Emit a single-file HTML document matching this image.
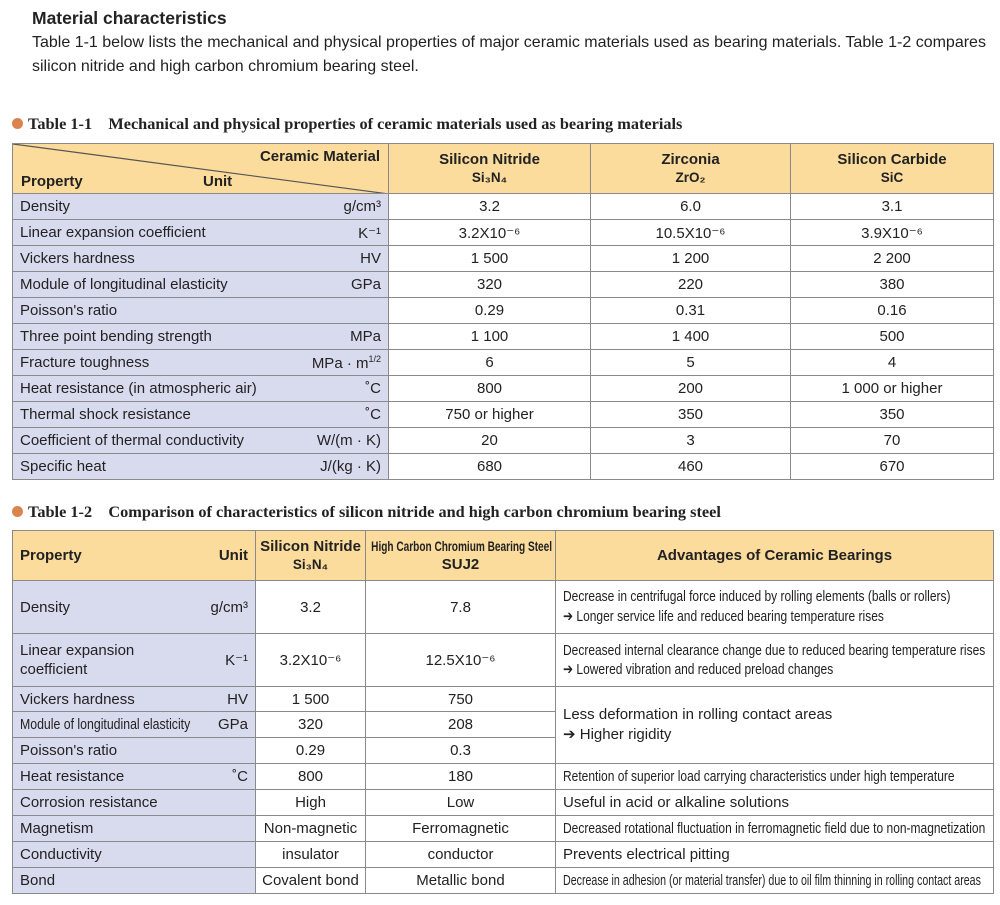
<!DOCTYPE html>
<html><head><meta charset="utf-8"><style>
body{margin:0;width:1000px;height:905px;background:#fff;font-family:"Liberation Sans",sans-serif;color:#222;position:relative;overflow:hidden}
.abs{position:absolute}
h1{position:absolute;left:32px;top:8px;margin:0;font-size:17.5px;font-weight:bold}
.p{position:absolute;left:32px;font-size:16px;color:#222}
.cap{position:absolute;left:12px;font-family:"Liberation Serif",serif;font-weight:bold;font-size:16.3px}
.cap .dot{display:inline-block;width:11px;height:11px;border-radius:50%;background:#d9844c;margin-right:5px;vertical-align:0px}
table{position:absolute;left:12px;border-collapse:collapse;table-layout:fixed;font-size:15px}
td,th{border:1px solid #8a8a8a;padding:0 7px;overflow:hidden;white-space:nowrap}
th{background:#fbdc9c;font-weight:bold;text-align:center;line-height:18px}
td.pr{background:#d8daee}
td{text-align:center}
.f{display:flex;justify-content:space-between}
.l{text-align:left}
.c{display:inline-block;transform:scaleX(.8);transform-origin:left center}
.s{font-size:13.5px}
</style></head><body>
<h1>Material characteristics</h1>
<div class="p" style="top:34px">Table 1-1 below lists the mechanical and physical properties of major ceramic materials used as bearing materials. Table 1-2 compares</div>
<div class="p" style="top:58px">silicon nitride and high carbon chromium bearing steel.</div>
<div class="cap" style="top:114px"><span class="dot"></span>Table 1-1&nbsp;&nbsp;&nbsp; Mechanical and physical properties of ceramic materials used as bearing materials</div>
<table style="top:143px;width:981px">
<colgroup><col style="width:376px"><col style="width:202px"><col style="width:200px"><col style="width:203px"></colgroup>
<tr style="height:50px"><th style="position:relative;padding:0">
<svg class="abs" style="left:0;top:0" width="376" height="50"><line x1="0" y1="0" x2="376" y2="50" stroke="#555" stroke-width="1.2"/></svg>
<span class="abs" style="right:8px;top:4px">Ceramic Material</span><span class="abs" style="left:8px;top:29px">Property</span><span class="abs" style="left:190px;top:29px">Unit</span></th>
<th>Silicon Nitride<br><span class="s">Si₃N₄</span></th>
<th>Zirconia<br><span class="s">ZrO₂</span></th>
<th>Silicon Carbide<br><span class="s">SiC</span></th></tr>
<tr style="height:26px"><td class="pr"><div class="f"><span>Density</span><span>g/cm³</span></div></td><td>3.2</td><td>6.0</td><td>3.1</td></tr>
<tr style="height:26px"><td class="pr"><div class="f"><span>Linear expansion coefficient</span><span>K⁻¹</span></div></td><td>3.2X10⁻⁶</td><td>10.5X10⁻⁶</td><td>3.9X10⁻⁶</td></tr>
<tr style="height:26px"><td class="pr"><div class="f"><span>Vickers hardness</span><span>HV</span></div></td><td>1 500</td><td>1 200</td><td>2 200</td></tr>
<tr style="height:26px"><td class="pr"><div class="f"><span>Module of longitudinal elasticity</span><span>GPa</span></div></td><td>320</td><td>220</td><td>380</td></tr>
<tr style="height:26px"><td class="pr"><div class="f"><span>Poisson's ratio</span><span></span></div></td><td>0.29</td><td>0.31</td><td>0.16</td></tr>
<tr style="height:26px"><td class="pr"><div class="f"><span>Three point bending strength</span><span>MPa</span></div></td><td>1 100</td><td>1 400</td><td>500</td></tr>
<tr style="height:26px"><td class="pr"><div class="f"><span>Fracture toughness</span><span>MPa · m<sup style="font-size:9px">1/2</sup></span></div></td><td>6</td><td>5</td><td>4</td></tr>
<tr style="height:26px"><td class="pr"><div class="f"><span>Heat resistance (in atmospheric air)</span><span>˚C</span></div></td><td>800</td><td>200</td><td>1 000 or higher</td></tr>
<tr style="height:26px"><td class="pr"><div class="f"><span>Thermal shock resistance</span><span>˚C</span></div></td><td>750 or higher</td><td>350</td><td>350</td></tr>
<tr style="height:26px"><td class="pr"><div class="f"><span>Coefficient of thermal conductivity</span><span>W/(m · K)</span></div></td><td>20</td><td>3</td><td>70</td></tr>
<tr style="height:26px"><td class="pr"><div class="f"><span>Specific heat</span><span>J/(kg · K)</span></div></td><td>680</td><td>460</td><td>670</td></tr>
</table>
<div class="cap" style="top:502px"><span class="dot"></span>Table 1-2&nbsp;&nbsp;&nbsp; Comparison of characteristics of silicon nitride and high carbon chromium bearing steel</div>
<table style="top:530px;width:981px">
<colgroup><col style="width:243px"><col style="width:110px"><col style="width:190px"><col style="width:438px"></colgroup>
<tr style="height:50px"><th><div class="f"><span>Property</span><span>Unit</span></div></th>
<th style="padding:0">Silicon Nitride<br><span class="s">Si₃N₄</span></th>
<th style="padding:0"><span class="c" style="transform:scaleX(.72);transform-origin:center;font-size:14px;margin:0 -30px">High Carbon Chromium Bearing Steel</span><br>SUJ2</th>
<th>Advantages of Ceramic Bearings</th></tr>
<tr style="height:53px"><td class="pr"><div class="f"><span>Density</span><span>g/cm³</span></div></td><td>3.2</td><td>7.8</td><td class="l" style="line-height:20px"><span class="c">Decrease in centrifugal force induced by rolling elements (balls or rollers)<br>➔ Longer service life and reduced bearing temperature rises</span></td></tr>
<tr style="height:53px"><td class="pr"><div class="f" style="align-items:center"><span style="line-height:19px;text-align:left">Linear expansion<br>coefficient</span><span>K⁻¹</span></div></td><td>3.2X10⁻⁶</td><td>12.5X10⁻⁶</td><td class="l" style="line-height:19px"><span class="c">Decreased internal clearance change due to reduced bearing temperature rises<br>➔ Lowered vibration and reduced preload changes</span></td></tr>
<tr style="height:25px"><td class="pr"><div class="f"><span>Vickers hardness</span><span>HV</span></div></td><td>1 500</td><td>750</td><td class="l" rowspan="3" style="line-height:20px">Less deformation in rolling contact areas<br>➔ Higher rigidity</td></tr>
<tr style="height:26px"><td class="pr"><div class="f"><span class="c" style="transform:scaleX(.82);margin-right:-30px">Module of longitudinal elasticity</span><span>GPa</span></div></td><td>320</td><td>208</td></tr>
<tr style="height:26px"><td class="pr"><div class="f"><span>Poisson's ratio</span><span></span></div></td><td>0.29</td><td>0.3</td></tr>
<tr style="height:26px"><td class="pr"><div class="f"><span>Heat resistance</span><span>˚C</span></div></td><td>800</td><td>180</td><td class="l"><span class="c">Retention of superior load carrying characteristics under high temperature</span></td></tr>
<tr style="height:26px"><td class="pr"><div class="f"><span>Corrosion resistance</span><span></span></div></td><td>High</td><td>Low</td><td class="l">Useful in acid or alkaline solutions</td></tr>
<tr style="height:26px"><td class="pr"><div class="f"><span>Magnetism</span><span></span></div></td><td style="padding:0">Non-magnetic</td><td>Ferromagnetic</td><td class="l"><span class="c">Decreased rotational fluctuation in ferromagnetic field due to non-magnetization</span></td></tr>
<tr style="height:26px"><td class="pr"><div class="f"><span>Conductivity</span><span></span></div></td><td>insulator</td><td>conductor</td><td class="l">Prevents electrical pitting</td></tr>
<tr style="height:26px"><td class="pr"><div class="f"><span>Bond</span><span></span></div></td><td style="padding:0">Covalent bond</td><td>Metallic bond</td><td class="l"><span class="c" style="transform:scaleX(.71)">Decrease in adhesion (or material transfer) due to oil film thinning in rolling contact areas</span></td></tr>
</table>
</body></html>
